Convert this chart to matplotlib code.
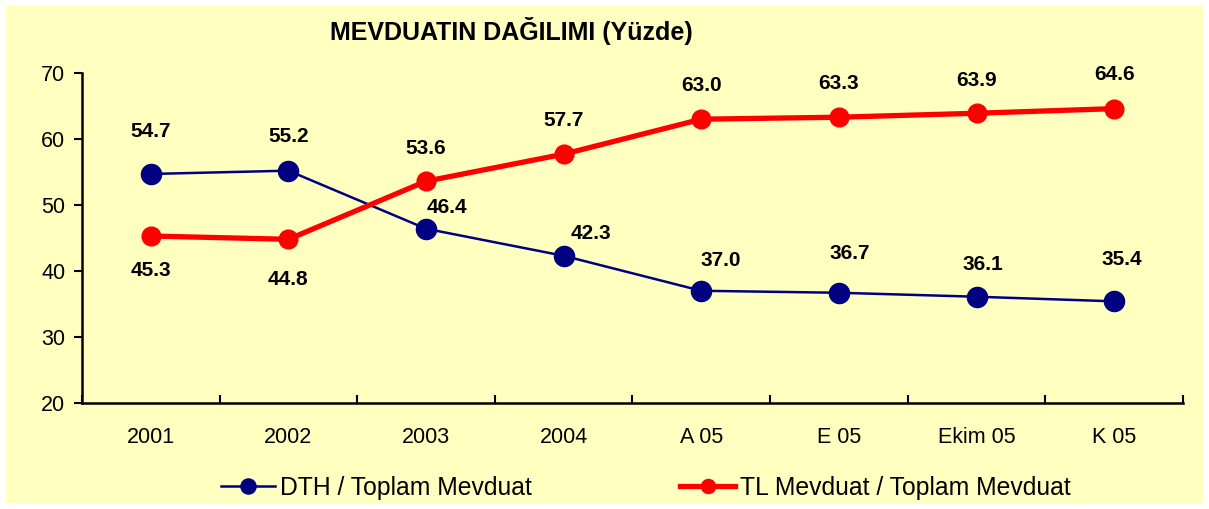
import matplotlib.pyplot as plt

plt.rcParams.update({'font.family': ['Liberation Sans', 'DejaVu Sans'], 'font.size': 15})

# Data
categories = ['2001', '2002', '2003', '2004', 'A 05', 'E 05', 'Ekim 05', 'K 05']
dth = [54.7, 55.2, 46.4, 42.3, 37.0, 36.7, 36.1, 35.4]
tl = [45.3, 44.8, 53.6, 57.7, 63.0, 63.3, 63.9, 64.6]

# label placement (pixel offsets from each marker, as in the original sheet)
dth_lbl_off = [(0, 42), (0, 34), (21, 21), (27, 22), (19, 30), (11, 39), (6, 32), (8, 42)]
tl_lbl_off = [(0, -34), (0, -40), (0, 33), (0, 34), (0, 34), (0, 34), (0, 33), (0, 34)]

BG = '#FFFFC0'
BLUE = '#000080'
RED = '#FF0000'

fig = plt.figure(figsize=(12.09, 5.09), dpi=100)
fig.patch.set_facecolor('white')

# yellow panel behind everything
bg = fig.add_axes([6 / 1209, 6 / 509, 1197 / 1209, 497 / 509], zorder=-1)
bg.set_facecolor(BG)
bg.set_xticks([])
bg.set_yticks([])
for s in bg.spines.values():
    s.set_visible(False)

ax = fig.add_axes([0.0678, 0.2083, 0.9107, 0.6483], zorder=1)
ax.set_facecolor('none')

x = range(len(categories))
ax.plot(x, dth, color=BLUE, lw=1.8, marker='o', ms=14.5,
        label='DTH / Toplam Mevduat', zorder=3)
ax.plot(x, tl, color=RED, lw=3.8, marker='o', ms=13.5,
        label='TL Mevduat / Toplam Mevduat', zorder=3)

for vals, offs in [(dth, dth_lbl_off), (tl, tl_lbl_off)]:
    for i, (v, (dx, dy)) in enumerate(zip(vals, offs)):
        ax.annotate(f"{v:.1f}", (i, v), xytext=(dx, dy), textcoords='offset pixels',
                    ha='center', va='center', fontsize=15, fontweight='bold')

ax.set_xlim(-0.5, len(categories) - 0.5)
ax.set_ylim(20, 70)
ax.set_yticks(range(20, 71, 10))
ax.set_xticks(x)
ax.set_xticklabels(categories, fontsize=15.5)
ax.set_xticks([i - 0.5 for i in range(len(categories) + 1)], minor=True)
ax.tick_params(axis='x', which='major', length=0, pad=17)
ax.tick_params(axis='x', which='minor', length=6, width=1.5, direction='in')
ax.tick_params(axis='y', length=6, width=1.5, direction='out', pad=6, labelsize=15.5)
for s in ['top', 'right']:
    ax.spines[s].set_visible(False)
for s in ['left', 'bottom']:
    ax.spines[s].set_linewidth(1.8)

fig.text(0.423, 0.94, 'MEVDUATIN DAĞILIMI (Yüzde)', ha='center', va='center',
         fontsize=18, fontweight='bold')

fig.legend(loc='center', bbox_to_anchor=(0.534, 0.041), ncol=2, frameon=False,
           fontsize=17.8, markerscale=0.75, handlelength=2.2, handletextpad=0.2,
           columnspacing=6.0)

fig.savefig('out.png', dpi=100, facecolor=fig.get_facecolor())
